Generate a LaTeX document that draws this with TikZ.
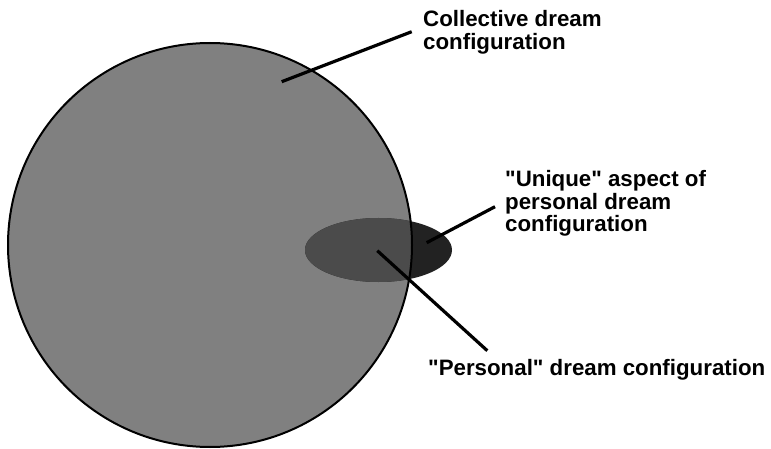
\documentclass[tikz,border=0pt]{standalone}
\usepackage{fontspec}
\setmainfont{Liberation Sans}
\usetikzlibrary{shapes.geometric}
\definecolor{bigfill}{HTML}{808080}
\definecolor{innerfill}{HTML}{4B4B4B}
\definecolor{outerfill}{HTML}{222222}
\newcommand{\qq}{\textquotedbl}
\tikzset{
  leader/.style={draw=black, line width=3.2pt},
  label/.style={anchor=base west, inner sep=0pt, align=left, font=\fontsize{22.3}{22.6}\selectfont\bfseries},
}
\begin{document}
\begin{tikzpicture}[x=1pt,y=-1pt]
\useasboundingbox (0,0) rectangle (771,449);
% shapes
\node[circle, minimum size=404pt, inner sep=0pt] (big) at (210,245) {};
\node[ellipse, minimum width=147pt, minimum height=64pt, inner sep=0pt] (pers) at (378.5,250) {};
\fill[bigfill] (210,245) circle [radius=202pt];
\fill[outerfill] (378.5,250) ellipse [x radius=73.5pt, y radius=32pt];
\begin{scope}
  \clip (210,245) circle [radius=202pt];
  \fill[innerfill] (378.5,250) ellipse [x radius=73.5pt, y radius=32pt];
\end{scope}
\draw[line width=2pt] (210,245) circle [radius=202pt];
% labels (base anchor = baseline of the last line)
\node[label] (coll) at (423,49.3) {Collective dream\\configuration};
\node[label] (uniq) at (505,232) {\qq Unique\qq{} aspect of\\personal dream\\configuration};
\node[label] (persl) at (428,375) {\qq Personal\qq{} dream configuration};
% leader coordinates
\coordinate (a1) at (281.7,81.7);
\coordinate (a2) at (411.7,31.7);
\coordinate (b1) at (426.7,242.7);
\coordinate (b2) at (495,206.7);
\coordinate (c1) at (377.3,250.7);
\coordinate (c2) at (487.3,350.7);
\draw[leader] (a1) -- (a2);
\draw[leader] (b1) -- (b2);
\draw[leader] (c1) -- (c2);
\end{tikzpicture}
\end{document}
